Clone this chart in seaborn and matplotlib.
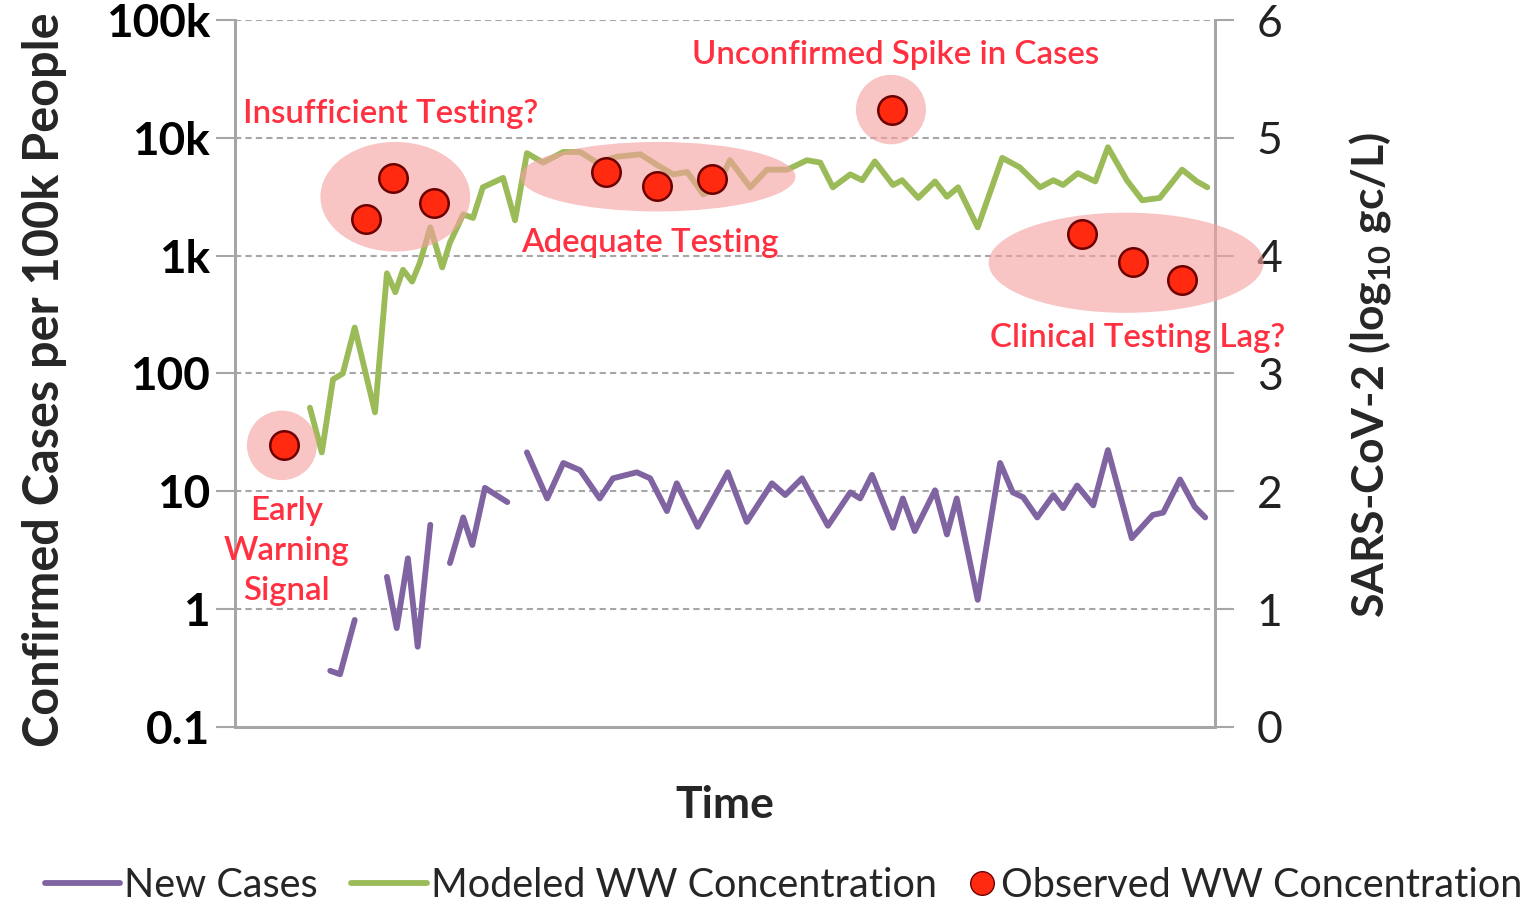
import numpy as np
import pandas as pd
import seaborn as sns
import matplotlib.pyplot as plt
from matplotlib.patches import Ellipse
from matplotlib.lines import Line2D

# ---- data (time in days, WW in log10 gc/L) ----
ww_day = [10.7, 12.4, 14.0, 15.4, 17.1, 20.0, 21.7, 22.9, 24.0, 25.3, 26.4, 27.9,
          29.6, 30.7, 32.6, 34.0, 35.4, 38.3, 40.0, 41.7, 44.0, 46.9, 49.3, 51.7,
          54.6, 57.9, 60.3, 62.6, 64.6, 66.9, 68.9, 70.7, 73.6, 76.0, 78.9, 81.7,
          83.6, 85.4, 87.9, 89.6, 91.4, 94.0, 95.3, 97.6, 100.0, 101.7, 103.3, 106.1,
          109.6, 112.1, 115.0, 116.9, 118.3, 120.4, 122.9, 124.7, 127.4, 129.6, 132.1,
          135.3, 137.4, 138.9]
ww_model = [2.71, 2.33, 2.95, 3.00, 3.39, 2.67, 3.85, 3.69, 3.88, 3.78, 3.94, 4.24,
            3.90, 4.11, 4.35, 4.32, 4.58, 4.66, 4.30, 4.87, 4.79, 4.88, 4.88, 4.79,
            4.84, 4.86, 4.77, 4.69, 4.71, 4.52, 4.58, 4.81, 4.58, 4.73, 4.73, 4.81,
            4.79, 4.58, 4.69, 4.64, 4.80, 4.60, 4.64, 4.49, 4.63, 4.50, 4.58, 4.24,
            4.83, 4.75, 4.58, 4.64, 4.60, 4.70, 4.63, 4.92, 4.64, 4.47, 4.49,
            4.73, 4.63, 4.58]

# new cases per 100k, broken into segments where the reported series has gaps
case_day = [13.6, 15.0, 17.1,
            21.7, 23.1, 24.7, 26.1, 27.9,
            30.7, 32.6, 33.9, 35.7, 38.9,
            41.7, 44.6, 46.9, 49.3, 52.1, 54.0, 57.4, 59.3, 61.7, 63.1, 66.1, 70.4,
            73.1, 76.7, 78.6, 81.0, 84.7, 87.9, 89.3, 91.0, 94.0, 95.4, 97.1, 100.0,
            101.7, 103.1, 106.1, 109.3, 111.1, 112.6, 114.6, 116.9, 118.3, 120.3,
            122.6, 124.7, 128.1, 131.1, 132.6, 135.0, 137.1, 138.6]
case_val = [0.30, 0.28, 0.81,
            1.88, 0.69, 2.7, 0.48, 5.2,
            2.46, 6.0, 3.5, 10.7, 8.1,
            21.4, 8.7, 17.4, 15.1, 8.7, 12.9, 14.5, 12.9, 6.8, 11.7, 5.0, 14.5,
            5.5, 11.7, 9.3, 12.9, 5.1, 9.8, 8.7, 13.8, 4.9, 8.7, 4.6, 10.2,
            4.3, 8.7, 1.2, 17.4, 9.8, 8.9, 6.0, 9.3, 7.2, 11.2,
            7.6, 22.4, 4.0, 6.3, 6.6, 12.6, 7.4, 6.0]
case_seg = [1] * 3 + [2] * 5 + [3] * 5 + [4] * 42

obs_day = [7.0, 18.7, 22.6, 28.4, 53.0, 60.3, 68.1, 93.9, 121.0, 128.3, 135.3]
obs_ww = [2.39, 4.31, 4.66, 4.45, 4.71, 4.59, 4.65, 5.24, 4.18, 3.95, 3.79]

left_ticks = [0.1, 1, 10, 100, 1000, 10000, 100000]
left_labels = ["0.1", "1", "10", "100", "1k", "10k", "100k"]
right_ticks = [0, 1, 2, 3, 4, 5, 6]

PURPLE = "#8064A2"
GREEN = "#9BBB59"
RED = "#FF2A10"
NOTE = "#FF3040"
PINK = "#F4A0A0"
GRID = "#A6A6A6"

sns.set_style("white")
plt.rcParams["font.family"] = ["Lato", "DejaVu Sans"]

cases = pd.DataFrame({"day": case_day, "cases": case_val, "seg": case_seg})
ww = pd.DataFrame({"day": ww_day, "ww": ww_model})
obs = pd.DataFrame({"day": obs_day, "ww": obs_ww})

fig = plt.figure(figsize=(15.32, 9.05), dpi=100)
ax = fig.add_axes([0.1534, 0.1967, 0.6397, 0.7812])
ax2 = ax.twinx()

# left: confirmed cases on log scale
sns.lineplot(data=cases, x="day", y="cases", units="seg", estimator=None,
             color=PURPLE, linewidth=4.2, ax=ax,
             solid_joinstyle="round", solid_capstyle="round")
ax.set_yscale("log")
ax.set_ylim(0.1, 100000)
ax.set_xlim(0, 140)
ax.set_yticks(left_ticks)
ax.set_yticklabels(left_labels)
ax.minorticks_off()
ax.set_xticks([])
ax.set_xlabel("")
ax.set_ylabel("")
ax.grid(axis="y", color=GRID, ls=(0, (3, 2)), lw=1.5)
ax.tick_params(axis="y", length=14, width=1.5, color=GRID, pad=4,
               labelsize=33, labelcolor="black")
for lab in ax.get_yticklabels():
    lab.set_fontweight("bold")

# right: wastewater concentration
sns.lineplot(data=ww, x="day", y="ww", color=GREEN, linewidth=4.2, ax=ax2,
             solid_joinstyle="round", solid_capstyle="round", zorder=2)
ax2.set_ylim(0, 6)
ax2.set_yticks(right_ticks)
ax2.set_ylabel("")
ax2.tick_params(axis="y", length=14, width=1.5, color=GRID, pad=16,
                labelsize=32, labelcolor="#222222")

# highlight ellipses
blobs = [((6.7, 2.39), 10.0, 0.59), ((22.9, 4.50), 21.4, 0.93),
         ((60.4, 4.67), 39.3, 0.59), ((93.7, 5.24), 10.0, 0.59),
         ((127.3, 3.94), 39.3, 0.85)]
for c, w, h in blobs:
    e = Ellipse(c, w, h, facecolor=PINK, edgecolor="none", alpha=0.62,
                zorder=3, clip_on=False)
    ax2.add_patch(e)

sns.scatterplot(data=obs, x="day", y="ww", ax=ax2, s=420, color=RED,
                edgecolor="#6B0000", linewidth=1.8, zorder=5, legend=False)
ax2.set_xlabel("")
ax2.set_ylabel("")

for a in (ax, ax2):
    a.spines["top"].set_visible(False)
    for s in ("left", "right", "bottom"):
        a.spines[s].set_color(GRID)
        a.spines[s].set_linewidth(2)

# annotations
note = dict(color=NOTE, fontsize=23.8, fontweight="semibold", va="center")
ax2.text(1.1, 5.20, "Insufficient Testing?", ha="left", **note)
ax2.text(94.4, 5.70, "Unconfirmed Spike in Cases", ha="center", **note)
ax2.text(59.3, 4.11, "Adequate Testing", ha="center", **note)
ax2.text(128.9, 3.30, "Clinical Testing Lag?", ha="center", clip_on=False, **note)
ax2.text(7.4, 1.49, "Early\nWarning\nSignal", ha="center", linespacing=1.42, **note)

# axis titles
fig.text(0.029, 0.58, "Confirmed Cases per 100k People", rotation=90,
         fontsize=35, fontweight="bold", ha="center", va="center")
fig.text(0.894, 0.586, r"SARS-CoV-2 (log$_{\mathregular{10}}$ gc/L)", rotation=90,
         fontsize=32, fontweight="bold", ha="center", va="center")
fig.text(0.473, 1 - 805 / 905, "Time", fontsize=32, fontweight="bold",
         ha="center", va="center")

# legend: two pieces so the dot sits tight against its label
leg_kw = dict(frameon=False, fontsize=28.5, borderpad=0, borderaxespad=0,
              handletextpad=0.1)
fig.legend([Line2D([], [], color=PURPLE, lw=4.2),
            Line2D([], [], color=GREEN, lw=4.2)],
           ["New Cases", "Modeled WW Concentration"],
           loc="center left", bbox_to_anchor=(45 / 1532, 0.022),
           ncol=2, handlelength=1.9, columnspacing=0.85, **leg_kw)
fig.legend([Line2D([], [], ls="none", marker="o", ms=17, markerfacecolor=RED,
                   markeredgecolor="#6B0000")],
           ["Observed WW Concentration"],
           loc="center right", bbox_to_anchor=(1522 / 1532, 0.022),
           handlelength=0.75, **leg_kw)

fig.savefig("out.png", dpi=100)
